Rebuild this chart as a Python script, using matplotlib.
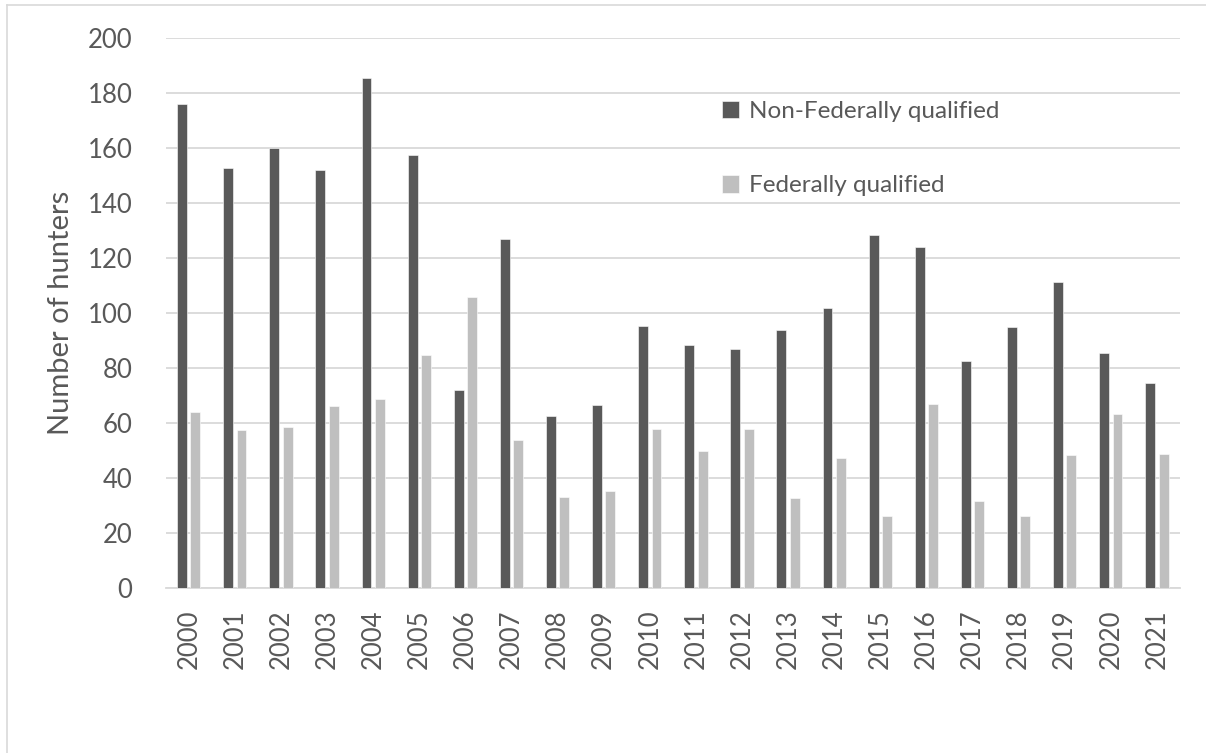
import numpy as np
import matplotlib
matplotlib.use("Agg")
import matplotlib.pyplot as plt
from matplotlib.lines import Line2D

years = [str(y) for y in range(2000, 2022)]
non_federal = [176, 153, 160, 152, 185.5, 157.5, 72, 127, 62.5, 66.7, 95.5,
               88.5, 87, 94, 102, 128.5, 124, 82.5, 95, 111.3, 85.5, 74.7]
federal = [64, 57.5, 58.8, 66.4, 69, 85, 106, 54, 33.2, 35.5, 58,
           50, 57.8, 32.7, 47.2, 26.2, 67, 31.8, 26.2, 48.5, 63.5, 49]

dark = "#595959"
light = "#BFBFBF"
grid_col = "#D9D9D9"
text_col = "#595959"

plt.rcParams['font.family'] = ['Lato', 'DejaVu Sans']

fig = plt.figure(figsize=(12.06, 7.53), dpi=100)
ax = fig.add_axes([165.7/1206, 1-588.3/753, (1180-165.7)/1206, 550/753])

x = np.arange(len(years))
w = 0.215
ax.bar(x - 0.145, non_federal, w, color=dark, edgecolor="white", linewidth=0.4,
       label="Non-Federally qualified", zorder=3)
ax.bar(x + 0.145, federal, w, color=light, edgecolor="white", linewidth=0.4,
       label="Federally qualified", zorder=3)

ax.set_xlim(-0.5, len(years) - 0.5)
ax.set_ylim(0, 200)
ax.set_yticks(range(0, 201, 20))
ax.set_xticks(x)
ax.set_xticklabels(years, rotation=90)
ax.yaxis.grid(True, color=grid_col, linewidth=1.3, zorder=0)
ax.set_axisbelow(True)
for s in ["top", "right", "left"]:
    ax.spines[s].set_visible(False)
ax.spines["bottom"].set_color(grid_col)
ax.spines["bottom"].set_linewidth(1.3)
ax.tick_params(axis="both", length=0, labelsize=18.5, colors=text_col)
ax.tick_params(axis="x", pad=15)
ax.tick_params(axis="y", pad=24)
ax.set_ylabel("Number of hunters", fontsize=21, color=text_col, labelpad=10)

leg = ax.legend(loc="upper left", bbox_to_anchor=(0.548, 0.886), frameon=False,
                fontsize=17.5, handlelength=0.7, handleheight=0.7,
                handletextpad=0.45, labelspacing=2.2, borderaxespad=0, borderpad=0)
for t in leg.get_texts():
    t.set_color(text_col)

# light chart border (left and top edges)
fig.add_artist(Line2D([7/1206, 7/1206], [0, 1-5/753], transform=fig.transFigure,
                      color="#D9D9D9", linewidth=1.2))
fig.add_artist(Line2D([7/1206, 1], [1-5/753, 1-5/753], transform=fig.transFigure,
                      color="#D9D9D9", linewidth=1.2))

fig.savefig("out.png", dpi=100)
